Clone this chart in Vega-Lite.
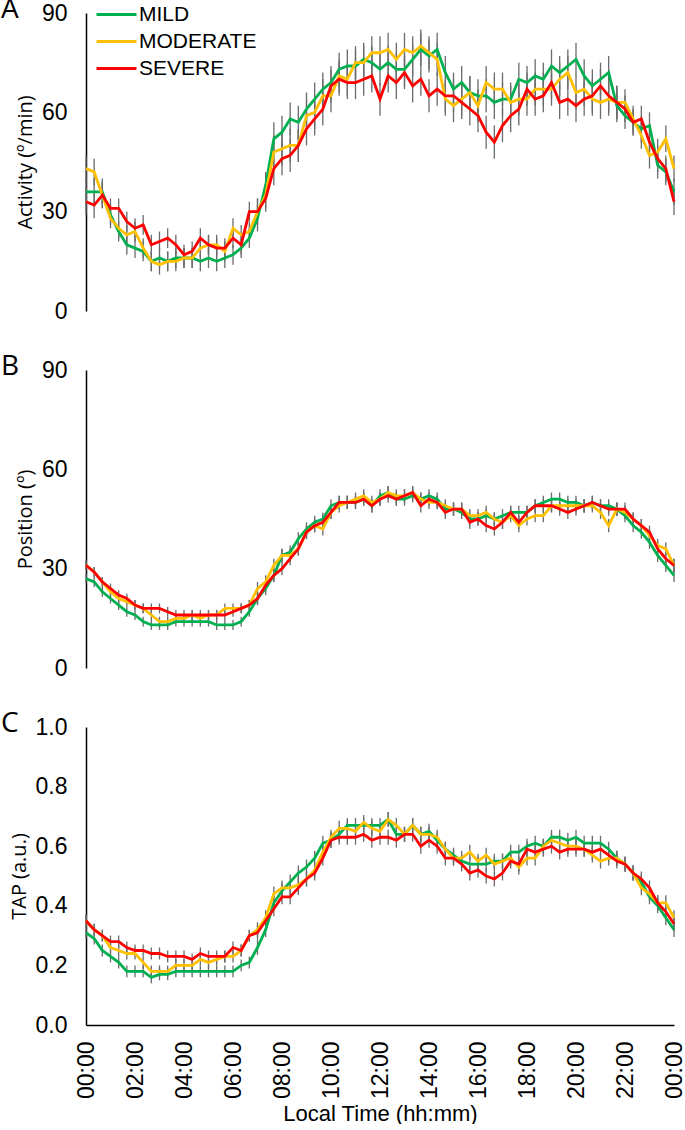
{
  "$schema": "https://vega.github.io/schema/vega-lite/v6.json",
  "background": "white",
  "padding": {"left": 1, "top": -4, "right": 0, "bottom": 0},
  "spacing": 59,
  "bounds": "flush",
  "resolve": {"legend": {"color": "independent"}},
  "config": {
    "font": "Liberation Sans",
    "view": {"stroke": null},
    "axis": {
      "grid": false,
      "ticks": false,
      "domainColor": "#000000",
      "domainWidth": 1.5,
      "labelColor": "#000000",
      "labelFont": "Liberation Sans",
      "labelFontSize": 23,
      "titleColor": "#000000",
      "titleFont": "Open Sans",
      "titleFontSize": 20,
      "titleFontWeight": "normal"
    },
    "axisY": {"labelPadding": 19, "titlePadding": 6},
    "axisX": {
      "labelFontSize": 23,
      "labelPadding": 16,
      "labelAngle": 270,
      "labelOverlap": false,
      "labelFlush": false,
      "labelBound": false,
      "titleFont": "Liberation Sans",
      "titleFontSize": 22,
      "titleBaseline": "top",
      "titleY": 78
    },
    "title": {"font": "Open Sans", "fontSize": 28, "fontWeight": "normal", "color": "#000000", "anchor": "start", "frame": "group", "baseline": "top", "offset": 0, "dx": -85, "dy": 26}
  },
  "datasets": {
    "A": [
      {"t":0,"g":"MILD","v":36,"e":4},{"t":20,"g":"MILD","v":36,"e":4},{"t":40,"g":"MILD","v":36,"e":4},{"t":60,"g":"MILD","v":29,"e":3},{"t":80,"g":"MILD","v":24,"e":3},{"t":100,"g":"MILD","v":20,"e":3},{"t":120,"g":"MILD","v":19,"e":3},{"t":140,"g":"MILD","v":18,"e":3},{"t":160,"g":"MILD","v":15,"e":3},{"t":180,"g":"MILD","v":16,"e":3},{"t":200,"g":"MILD","v":15,"e":3},{"t":220,"g":"MILD","v":16,"e":3},{"t":240,"g":"MILD","v":16,"e":3},{"t":260,"g":"MILD","v":16,"e":3},{"t":280,"g":"MILD","v":15,"e":3},{"t":300,"g":"MILD","v":16,"e":3},{"t":320,"g":"MILD","v":15,"e":3},{"t":340,"g":"MILD","v":16,"e":3},{"t":360,"g":"MILD","v":17,"e":3},{"t":380,"g":"MILD","v":19,"e":3},{"t":400,"g":"MILD","v":22,"e":3},{"t":420,"g":"MILD","v":28,"e":4},{"t":440,"g":"MILD","v":38,"e":4},{"t":460,"g":"MILD","v":52,"e":5},{"t":480,"g":"MILD","v":54,"e":5},{"t":500,"g":"MILD","v":58,"e":5},{"t":520,"g":"MILD","v":57,"e":5},{"t":540,"g":"MILD","v":61,"e":5},{"t":560,"g":"MILD","v":64,"e":5},{"t":580,"g":"MILD","v":67,"e":5},{"t":600,"g":"MILD","v":69,"e":5},{"t":620,"g":"MILD","v":73,"e":5},{"t":640,"g":"MILD","v":74,"e":5},{"t":660,"g":"MILD","v":74,"e":5},{"t":680,"g":"MILD","v":76,"e":5},{"t":700,"g":"MILD","v":75,"e":5},{"t":720,"g":"MILD","v":73,"e":5},{"t":740,"g":"MILD","v":75,"e":5},{"t":760,"g":"MILD","v":73,"e":5},{"t":780,"g":"MILD","v":73,"e":5},{"t":800,"g":"MILD","v":76,"e":5},{"t":820,"g":"MILD","v":79,"e":5},{"t":840,"g":"MILD","v":77,"e":5},{"t":860,"g":"MILD","v":79,"e":5},{"t":880,"g":"MILD","v":72,"e":5},{"t":900,"g":"MILD","v":67,"e":5},{"t":920,"g":"MILD","v":69,"e":5},{"t":940,"g":"MILD","v":66,"e":5},{"t":960,"g":"MILD","v":65,"e":5},{"t":980,"g":"MILD","v":65,"e":5},{"t":1000,"g":"MILD","v":63,"e":5},{"t":1020,"g":"MILD","v":64,"e":5},{"t":1040,"g":"MILD","v":64,"e":5},{"t":1060,"g":"MILD","v":70,"e":5},{"t":1080,"g":"MILD","v":69,"e":5},{"t":1100,"g":"MILD","v":71,"e":5},{"t":1120,"g":"MILD","v":70,"e":5},{"t":1140,"g":"MILD","v":74,"e":5},{"t":1160,"g":"MILD","v":72,"e":5},{"t":1180,"g":"MILD","v":74,"e":5},{"t":1200,"g":"MILD","v":76,"e":5},{"t":1220,"g":"MILD","v":71,"e":5},{"t":1240,"g":"MILD","v":68,"e":5},{"t":1260,"g":"MILD","v":70,"e":5},{"t":1280,"g":"MILD","v":72,"e":5},{"t":1300,"g":"MILD","v":62,"e":5},{"t":1320,"g":"MILD","v":59,"e":4},{"t":1340,"g":"MILD","v":57,"e":4},{"t":1360,"g":"MILD","v":55,"e":4},{"t":1380,"g":"MILD","v":56,"e":4},{"t":1400,"g":"MILD","v":44,"e":4},{"t":1420,"g":"MILD","v":42,"e":4},{"t":1440,"g":"MILD","v":36,"e":4},
      {"t":0,"g":"MODERATE","v":43,"e":4},{"t":20,"g":"MODERATE","v":42,"e":4},{"t":40,"g":"MODERATE","v":35,"e":4},{"t":60,"g":"MODERATE","v":28,"e":3},{"t":80,"g":"MODERATE","v":25,"e":3},{"t":100,"g":"MODERATE","v":23,"e":3},{"t":120,"g":"MODERATE","v":24,"e":3},{"t":140,"g":"MODERATE","v":19,"e":3},{"t":160,"g":"MODERATE","v":15,"e":3},{"t":180,"g":"MODERATE","v":14,"e":3},{"t":200,"g":"MODERATE","v":15,"e":3},{"t":220,"g":"MODERATE","v":15,"e":3},{"t":240,"g":"MODERATE","v":16,"e":3},{"t":260,"g":"MODERATE","v":16,"e":3},{"t":280,"g":"MODERATE","v":19,"e":3},{"t":300,"g":"MODERATE","v":20,"e":3},{"t":320,"g":"MODERATE","v":20,"e":3},{"t":340,"g":"MODERATE","v":18,"e":3},{"t":360,"g":"MODERATE","v":25,"e":3},{"t":380,"g":"MODERATE","v":23,"e":3},{"t":400,"g":"MODERATE","v":24,"e":3},{"t":420,"g":"MODERATE","v":30,"e":4},{"t":440,"g":"MODERATE","v":35,"e":4},{"t":460,"g":"MODERATE","v":48,"e":5},{"t":480,"g":"MODERATE","v":49,"e":5},{"t":500,"g":"MODERATE","v":50,"e":5},{"t":520,"g":"MODERATE","v":50,"e":5},{"t":540,"g":"MODERATE","v":59,"e":5},{"t":560,"g":"MODERATE","v":60,"e":5},{"t":580,"g":"MODERATE","v":65,"e":5},{"t":600,"g":"MODERATE","v":65,"e":5},{"t":620,"g":"MODERATE","v":71,"e":5},{"t":640,"g":"MODERATE","v":70,"e":5},{"t":660,"g":"MODERATE","v":75,"e":5},{"t":680,"g":"MODERATE","v":75,"e":5},{"t":700,"g":"MODERATE","v":78,"e":5},{"t":720,"g":"MODERATE","v":78,"e":5},{"t":740,"g":"MODERATE","v":79,"e":5},{"t":760,"g":"MODERATE","v":76,"e":5},{"t":780,"g":"MODERATE","v":79,"e":5},{"t":800,"g":"MODERATE","v":78,"e":5},{"t":820,"g":"MODERATE","v":80,"e":5},{"t":840,"g":"MODERATE","v":78,"e":5},{"t":860,"g":"MODERATE","v":76,"e":5},{"t":880,"g":"MODERATE","v":64,"e":5},{"t":900,"g":"MODERATE","v":62,"e":5},{"t":920,"g":"MODERATE","v":64,"e":5},{"t":940,"g":"MODERATE","v":66,"e":5},{"t":960,"g":"MODERATE","v":62,"e":5},{"t":980,"g":"MODERATE","v":69,"e":5},{"t":1000,"g":"MODERATE","v":67,"e":5},{"t":1020,"g":"MODERATE","v":67,"e":5},{"t":1040,"g":"MODERATE","v":63,"e":5},{"t":1060,"g":"MODERATE","v":64,"e":5},{"t":1080,"g":"MODERATE","v":64,"e":5},{"t":1100,"g":"MODERATE","v":67,"e":5},{"t":1120,"g":"MODERATE","v":67,"e":5},{"t":1140,"g":"MODERATE","v":67,"e":5},{"t":1160,"g":"MODERATE","v":70,"e":5},{"t":1180,"g":"MODERATE","v":72,"e":5},{"t":1200,"g":"MODERATE","v":66,"e":5},{"t":1220,"g":"MODERATE","v":67,"e":5},{"t":1240,"g":"MODERATE","v":64,"e":5},{"t":1260,"g":"MODERATE","v":63,"e":5},{"t":1280,"g":"MODERATE","v":64,"e":5},{"t":1300,"g":"MODERATE","v":63,"e":5},{"t":1320,"g":"MODERATE","v":63,"e":4},{"t":1340,"g":"MODERATE","v":58,"e":4},{"t":1360,"g":"MODERATE","v":53,"e":4},{"t":1380,"g":"MODERATE","v":47,"e":4},{"t":1400,"g":"MODERATE","v":48,"e":4},{"t":1420,"g":"MODERATE","v":52,"e":4},{"t":1440,"g":"MODERATE","v":43,"e":4},
      {"t":0,"g":"SEVERE","v":33,"e":4},{"t":20,"g":"SEVERE","v":32,"e":4},{"t":40,"g":"SEVERE","v":35,"e":4},{"t":60,"g":"SEVERE","v":31,"e":3},{"t":80,"g":"SEVERE","v":31,"e":3},{"t":100,"g":"SEVERE","v":27,"e":3},{"t":120,"g":"SEVERE","v":25,"e":3},{"t":140,"g":"SEVERE","v":26,"e":3},{"t":160,"g":"SEVERE","v":20,"e":3},{"t":180,"g":"SEVERE","v":21,"e":3},{"t":200,"g":"SEVERE","v":22,"e":3},{"t":220,"g":"SEVERE","v":20,"e":3},{"t":240,"g":"SEVERE","v":17,"e":3},{"t":260,"g":"SEVERE","v":18,"e":3},{"t":280,"g":"SEVERE","v":22,"e":3},{"t":300,"g":"SEVERE","v":20,"e":3},{"t":320,"g":"SEVERE","v":19,"e":3},{"t":340,"g":"SEVERE","v":19,"e":3},{"t":360,"g":"SEVERE","v":22,"e":3},{"t":380,"g":"SEVERE","v":20,"e":3},{"t":400,"g":"SEVERE","v":30,"e":3},{"t":420,"g":"SEVERE","v":30,"e":4},{"t":440,"g":"SEVERE","v":34,"e":4},{"t":460,"g":"SEVERE","v":43,"e":5},{"t":480,"g":"SEVERE","v":46,"e":5},{"t":500,"g":"SEVERE","v":47,"e":5},{"t":520,"g":"SEVERE","v":50,"e":5},{"t":540,"g":"SEVERE","v":55,"e":5},{"t":560,"g":"SEVERE","v":58,"e":5},{"t":580,"g":"SEVERE","v":61,"e":5},{"t":600,"g":"SEVERE","v":68,"e":5},{"t":620,"g":"SEVERE","v":70,"e":5},{"t":640,"g":"SEVERE","v":69,"e":5},{"t":660,"g":"SEVERE","v":69,"e":5},{"t":680,"g":"SEVERE","v":70,"e":5},{"t":700,"g":"SEVERE","v":71,"e":5},{"t":720,"g":"SEVERE","v":64,"e":5},{"t":740,"g":"SEVERE","v":71,"e":5},{"t":760,"g":"SEVERE","v":69,"e":5},{"t":780,"g":"SEVERE","v":72,"e":5},{"t":800,"g":"SEVERE","v":68,"e":5},{"t":820,"g":"SEVERE","v":70,"e":5},{"t":840,"g":"SEVERE","v":65,"e":5},{"t":860,"g":"SEVERE","v":67,"e":5},{"t":880,"g":"SEVERE","v":65,"e":5},{"t":900,"g":"SEVERE","v":65,"e":5},{"t":920,"g":"SEVERE","v":63,"e":5},{"t":940,"g":"SEVERE","v":61,"e":5},{"t":960,"g":"SEVERE","v":59,"e":5},{"t":980,"g":"SEVERE","v":54,"e":5},{"t":1000,"g":"SEVERE","v":51,"e":5},{"t":1020,"g":"SEVERE","v":56,"e":5},{"t":1040,"g":"SEVERE","v":59,"e":5},{"t":1060,"g":"SEVERE","v":61,"e":5},{"t":1080,"g":"SEVERE","v":67,"e":5},{"t":1100,"g":"SEVERE","v":64,"e":5},{"t":1120,"g":"SEVERE","v":65,"e":5},{"t":1140,"g":"SEVERE","v":69,"e":5},{"t":1160,"g":"SEVERE","v":63,"e":5},{"t":1180,"g":"SEVERE","v":64,"e":5},{"t":1200,"g":"SEVERE","v":62,"e":5},{"t":1220,"g":"SEVERE","v":64,"e":5},{"t":1240,"g":"SEVERE","v":65,"e":5},{"t":1260,"g":"SEVERE","v":68,"e":5},{"t":1280,"g":"SEVERE","v":65,"e":5},{"t":1300,"g":"SEVERE","v":63,"e":5},{"t":1320,"g":"SEVERE","v":61,"e":4},{"t":1340,"g":"SEVERE","v":57,"e":4},{"t":1360,"g":"SEVERE","v":58,"e":4},{"t":1380,"g":"SEVERE","v":51,"e":4},{"t":1400,"g":"SEVERE","v":46,"e":4},{"t":1420,"g":"SEVERE","v":43,"e":4},{"t":1440,"g":"SEVERE","v":33,"e":4}
    ],
    "B": [
      {"t":0,"g":"MILD","v":27,"e":1.5},{"t":20,"g":"MILD","v":26,"e":1.5},{"t":40,"g":"MILD","v":23,"e":1.5},{"t":60,"g":"MILD","v":21,"e":1.5},{"t":80,"g":"MILD","v":19,"e":1.5},{"t":100,"g":"MILD","v":17,"e":1.5},{"t":120,"g":"MILD","v":16,"e":1.5},{"t":140,"g":"MILD","v":14,"e":1.5},{"t":160,"g":"MILD","v":13,"e":1.5},{"t":180,"g":"MILD","v":13,"e":1.5},{"t":200,"g":"MILD","v":13,"e":1.5},{"t":220,"g":"MILD","v":14,"e":1.5},{"t":240,"g":"MILD","v":14,"e":1.5},{"t":260,"g":"MILD","v":14,"e":1.5},{"t":280,"g":"MILD","v":14,"e":1.5},{"t":300,"g":"MILD","v":14,"e":1.5},{"t":320,"g":"MILD","v":13,"e":1.5},{"t":340,"g":"MILD","v":13,"e":1.5},{"t":360,"g":"MILD","v":13,"e":1.5},{"t":380,"g":"MILD","v":14,"e":1.5},{"t":400,"g":"MILD","v":17,"e":1.5},{"t":420,"g":"MILD","v":21,"e":2},{"t":440,"g":"MILD","v":24,"e":2},{"t":460,"g":"MILD","v":28,"e":2},{"t":480,"g":"MILD","v":34,"e":2},{"t":500,"g":"MILD","v":35,"e":2},{"t":520,"g":"MILD","v":39,"e":2},{"t":540,"g":"MILD","v":42,"e":2},{"t":560,"g":"MILD","v":44,"e":2},{"t":580,"g":"MILD","v":45,"e":2},{"t":600,"g":"MILD","v":49,"e":2},{"t":620,"g":"MILD","v":50,"e":2},{"t":640,"g":"MILD","v":50,"e":2},{"t":660,"g":"MILD","v":50,"e":2},{"t":680,"g":"MILD","v":51,"e":2},{"t":700,"g":"MILD","v":49,"e":2},{"t":720,"g":"MILD","v":52,"e":2},{"t":740,"g":"MILD","v":53,"e":2},{"t":760,"g":"MILD","v":51,"e":2},{"t":780,"g":"MILD","v":51,"e":2},{"t":800,"g":"MILD","v":52,"e":2},{"t":820,"g":"MILD","v":51,"e":2},{"t":840,"g":"MILD","v":52,"e":2},{"t":860,"g":"MILD","v":51,"e":2},{"t":880,"g":"MILD","v":48,"e":2},{"t":900,"g":"MILD","v":48,"e":2},{"t":920,"g":"MILD","v":47,"e":2},{"t":940,"g":"MILD","v":45,"e":2},{"t":960,"g":"MILD","v":45,"e":2},{"t":980,"g":"MILD","v":46,"e":2},{"t":1000,"g":"MILD","v":45,"e":2},{"t":1020,"g":"MILD","v":46,"e":2},{"t":1040,"g":"MILD","v":47,"e":2},{"t":1060,"g":"MILD","v":47,"e":2},{"t":1080,"g":"MILD","v":47,"e":2},{"t":1100,"g":"MILD","v":49,"e":2},{"t":1120,"g":"MILD","v":50,"e":2},{"t":1140,"g":"MILD","v":51,"e":2},{"t":1160,"g":"MILD","v":51,"e":2},{"t":1180,"g":"MILD","v":50,"e":2},{"t":1200,"g":"MILD","v":50,"e":2},{"t":1220,"g":"MILD","v":49,"e":2},{"t":1240,"g":"MILD","v":50,"e":2},{"t":1260,"g":"MILD","v":49,"e":2},{"t":1280,"g":"MILD","v":49,"e":2},{"t":1300,"g":"MILD","v":48,"e":2},{"t":1320,"g":"MILD","v":46,"e":2},{"t":1340,"g":"MILD","v":43,"e":2},{"t":1360,"g":"MILD","v":41,"e":2},{"t":1380,"g":"MILD","v":38,"e":2},{"t":1400,"g":"MILD","v":34,"e":2},{"t":1420,"g":"MILD","v":31,"e":2},{"t":1440,"g":"MILD","v":28,"e":2},
      {"t":0,"g":"MODERATE","v":31,"e":1.5},{"t":20,"g":"MODERATE","v":29,"e":1.5},{"t":40,"g":"MODERATE","v":26,"e":1.5},{"t":60,"g":"MODERATE","v":23,"e":1.5},{"t":80,"g":"MODERATE","v":21,"e":1.5},{"t":100,"g":"MODERATE","v":20,"e":1.5},{"t":120,"g":"MODERATE","v":19,"e":1.5},{"t":140,"g":"MODERATE","v":18,"e":1.5},{"t":160,"g":"MODERATE","v":16,"e":1.5},{"t":180,"g":"MODERATE","v":14,"e":1.5},{"t":200,"g":"MODERATE","v":14,"e":1.5},{"t":220,"g":"MODERATE","v":15,"e":1.5},{"t":240,"g":"MODERATE","v":15,"e":1.5},{"t":260,"g":"MODERATE","v":16,"e":1.5},{"t":280,"g":"MODERATE","v":15,"e":1.5},{"t":300,"g":"MODERATE","v":16,"e":1.5},{"t":320,"g":"MODERATE","v":16,"e":1.5},{"t":340,"g":"MODERATE","v":18,"e":1.5},{"t":360,"g":"MODERATE","v":18,"e":1.5},{"t":380,"g":"MODERATE","v":18,"e":1.5},{"t":400,"g":"MODERATE","v":19,"e":1.5},{"t":420,"g":"MODERATE","v":24,"e":2},{"t":440,"g":"MODERATE","v":26,"e":2},{"t":460,"g":"MODERATE","v":31,"e":2},{"t":480,"g":"MODERATE","v":34,"e":2},{"t":500,"g":"MODERATE","v":34,"e":2},{"t":520,"g":"MODERATE","v":36,"e":2},{"t":540,"g":"MODERATE","v":41,"e":2},{"t":560,"g":"MODERATE","v":43,"e":2},{"t":580,"g":"MODERATE","v":42,"e":2},{"t":600,"g":"MODERATE","v":47,"e":2},{"t":620,"g":"MODERATE","v":49,"e":2},{"t":640,"g":"MODERATE","v":50,"e":2},{"t":660,"g":"MODERATE","v":51,"e":2},{"t":680,"g":"MODERATE","v":52,"e":2},{"t":700,"g":"MODERATE","v":50,"e":2},{"t":720,"g":"MODERATE","v":51,"e":2},{"t":740,"g":"MODERATE","v":53,"e":2},{"t":760,"g":"MODERATE","v":52,"e":2},{"t":780,"g":"MODERATE","v":52,"e":2},{"t":800,"g":"MODERATE","v":53,"e":2},{"t":820,"g":"MODERATE","v":51,"e":2},{"t":840,"g":"MODERATE","v":50,"e":2},{"t":860,"g":"MODERATE","v":50,"e":2},{"t":880,"g":"MODERATE","v":49,"e":2},{"t":900,"g":"MODERATE","v":48,"e":2},{"t":920,"g":"MODERATE","v":48,"e":2},{"t":940,"g":"MODERATE","v":46,"e":2},{"t":960,"g":"MODERATE","v":46,"e":2},{"t":980,"g":"MODERATE","v":47,"e":2},{"t":1000,"g":"MODERATE","v":45,"e":2},{"t":1020,"g":"MODERATE","v":44,"e":2},{"t":1040,"g":"MODERATE","v":46,"e":2},{"t":1060,"g":"MODERATE","v":43,"e":2},{"t":1080,"g":"MODERATE","v":45,"e":2},{"t":1100,"g":"MODERATE","v":46,"e":2},{"t":1120,"g":"MODERATE","v":46,"e":2},{"t":1140,"g":"MODERATE","v":49,"e":2},{"t":1160,"g":"MODERATE","v":49,"e":2},{"t":1180,"g":"MODERATE","v":49,"e":2},{"t":1200,"g":"MODERATE","v":49,"e":2},{"t":1220,"g":"MODERATE","v":49,"e":2},{"t":1240,"g":"MODERATE","v":49,"e":2},{"t":1260,"g":"MODERATE","v":47,"e":2},{"t":1280,"g":"MODERATE","v":43,"e":2},{"t":1300,"g":"MODERATE","v":48,"e":2},{"t":1320,"g":"MODERATE","v":47,"e":2},{"t":1340,"g":"MODERATE","v":45,"e":2},{"t":1360,"g":"MODERATE","v":43,"e":2},{"t":1380,"g":"MODERATE","v":40,"e":2},{"t":1400,"g":"MODERATE","v":37,"e":2},{"t":1420,"g":"MODERATE","v":36,"e":2},{"t":1440,"g":"MODERATE","v":31,"e":2},
      {"t":0,"g":"SEVERE","v":31,"e":1.5},{"t":20,"g":"SEVERE","v":29,"e":1.5},{"t":40,"g":"SEVERE","v":26,"e":1.5},{"t":60,"g":"SEVERE","v":24,"e":1.5},{"t":80,"g":"SEVERE","v":22,"e":1.5},{"t":100,"g":"SEVERE","v":21,"e":1.5},{"t":120,"g":"SEVERE","v":19,"e":1.5},{"t":140,"g":"SEVERE","v":18,"e":1.5},{"t":160,"g":"SEVERE","v":18,"e":1.5},{"t":180,"g":"SEVERE","v":18,"e":1.5},{"t":200,"g":"SEVERE","v":17,"e":1.5},{"t":220,"g":"SEVERE","v":16,"e":1.5},{"t":240,"g":"SEVERE","v":16,"e":1.5},{"t":260,"g":"SEVERE","v":16,"e":1.5},{"t":280,"g":"SEVERE","v":16,"e":1.5},{"t":300,"g":"SEVERE","v":16,"e":1.5},{"t":320,"g":"SEVERE","v":16,"e":1.5},{"t":340,"g":"SEVERE","v":16,"e":1.5},{"t":360,"g":"SEVERE","v":17,"e":1.5},{"t":380,"g":"SEVERE","v":18,"e":1.5},{"t":400,"g":"SEVERE","v":19,"e":1.5},{"t":420,"g":"SEVERE","v":21,"e":2},{"t":440,"g":"SEVERE","v":25,"e":2},{"t":460,"g":"SEVERE","v":28,"e":2},{"t":480,"g":"SEVERE","v":30,"e":2},{"t":500,"g":"SEVERE","v":33,"e":2},{"t":520,"g":"SEVERE","v":36,"e":2},{"t":540,"g":"SEVERE","v":41,"e":2},{"t":560,"g":"SEVERE","v":43,"e":2},{"t":580,"g":"SEVERE","v":44,"e":2},{"t":600,"g":"SEVERE","v":47,"e":2},{"t":620,"g":"SEVERE","v":50,"e":2},{"t":640,"g":"SEVERE","v":50,"e":2},{"t":660,"g":"SEVERE","v":50,"e":2},{"t":680,"g":"SEVERE","v":51,"e":2},{"t":700,"g":"SEVERE","v":49,"e":2},{"t":720,"g":"SEVERE","v":51,"e":2},{"t":740,"g":"SEVERE","v":52,"e":2},{"t":760,"g":"SEVERE","v":51,"e":2},{"t":780,"g":"SEVERE","v":52,"e":2},{"t":800,"g":"SEVERE","v":53,"e":2},{"t":820,"g":"SEVERE","v":49,"e":2},{"t":840,"g":"SEVERE","v":51,"e":2},{"t":860,"g":"SEVERE","v":50,"e":2},{"t":880,"g":"SEVERE","v":47,"e":2},{"t":900,"g":"SEVERE","v":48,"e":2},{"t":920,"g":"SEVERE","v":48,"e":2},{"t":940,"g":"SEVERE","v":44,"e":2},{"t":960,"g":"SEVERE","v":45,"e":2},{"t":980,"g":"SEVERE","v":43,"e":2},{"t":1000,"g":"SEVERE","v":42,"e":2},{"t":1020,"g":"SEVERE","v":44,"e":2},{"t":1040,"g":"SEVERE","v":47,"e":2},{"t":1060,"g":"SEVERE","v":44,"e":2},{"t":1080,"g":"SEVERE","v":47,"e":2},{"t":1100,"g":"SEVERE","v":49,"e":2},{"t":1120,"g":"SEVERE","v":49,"e":2},{"t":1140,"g":"SEVERE","v":49,"e":2},{"t":1160,"g":"SEVERE","v":48,"e":2},{"t":1180,"g":"SEVERE","v":47,"e":2},{"t":1200,"g":"SEVERE","v":48,"e":2},{"t":1220,"g":"SEVERE","v":49,"e":2},{"t":1240,"g":"SEVERE","v":50,"e":2},{"t":1260,"g":"SEVERE","v":49,"e":2},{"t":1280,"g":"SEVERE","v":48,"e":2},{"t":1300,"g":"SEVERE","v":48,"e":2},{"t":1320,"g":"SEVERE","v":48,"e":2},{"t":1340,"g":"SEVERE","v":45,"e":2},{"t":1360,"g":"SEVERE","v":43,"e":2},{"t":1380,"g":"SEVERE","v":41,"e":2},{"t":1400,"g":"SEVERE","v":36,"e":2},{"t":1420,"g":"SEVERE","v":33,"e":2},{"t":1440,"g":"SEVERE","v":31,"e":2}
    ],
    "C": [
      {"t":0,"g":"MILD","v":0.31,"e":0.02},{"t":20,"g":"MILD","v":0.29,"e":0.02},{"t":40,"g":"MILD","v":0.25,"e":0.02},{"t":60,"g":"MILD","v":0.23,"e":0.02},{"t":80,"g":"MILD","v":0.21,"e":0.02},{"t":100,"g":"MILD","v":0.18,"e":0.02},{"t":120,"g":"MILD","v":0.18,"e":0.02},{"t":140,"g":"MILD","v":0.18,"e":0.02},{"t":160,"g":"MILD","v":0.16,"e":0.02},{"t":180,"g":"MILD","v":0.17,"e":0.02},{"t":200,"g":"MILD","v":0.17,"e":0.02},{"t":220,"g":"MILD","v":0.18,"e":0.02},{"t":240,"g":"MILD","v":0.18,"e":0.02},{"t":260,"g":"MILD","v":0.18,"e":0.02},{"t":280,"g":"MILD","v":0.18,"e":0.02},{"t":300,"g":"MILD","v":0.18,"e":0.02},{"t":320,"g":"MILD","v":0.18,"e":0.02},{"t":340,"g":"MILD","v":0.18,"e":0.02},{"t":360,"g":"MILD","v":0.18,"e":0.02},{"t":380,"g":"MILD","v":0.20,"e":0.02},{"t":400,"g":"MILD","v":0.21,"e":0.02},{"t":420,"g":"MILD","v":0.26,"e":0.025},{"t":440,"g":"MILD","v":0.32,"e":0.025},{"t":460,"g":"MILD","v":0.41,"e":0.025},{"t":480,"g":"MILD","v":0.45,"e":0.025},{"t":500,"g":"MILD","v":0.48,"e":0.025},{"t":520,"g":"MILD","v":0.51,"e":0.025},{"t":540,"g":"MILD","v":0.53,"e":0.025},{"t":560,"g":"MILD","v":0.56,"e":0.025},{"t":580,"g":"MILD","v":0.61,"e":0.025},{"t":600,"g":"MILD","v":0.62,"e":0.025},{"t":620,"g":"MILD","v":0.64,"e":0.025},{"t":640,"g":"MILD","v":0.67,"e":0.025},{"t":660,"g":"MILD","v":0.67,"e":0.025},{"t":680,"g":"MILD","v":0.67,"e":0.025},{"t":700,"g":"MILD","v":0.67,"e":0.025},{"t":720,"g":"MILD","v":0.67,"e":0.025},{"t":740,"g":"MILD","v":0.69,"e":0.025},{"t":760,"g":"MILD","v":0.64,"e":0.025},{"t":780,"g":"MILD","v":0.64,"e":0.025},{"t":800,"g":"MILD","v":0.67,"e":0.025},{"t":820,"g":"MILD","v":0.64,"e":0.025},{"t":840,"g":"MILD","v":0.65,"e":0.025},{"t":860,"g":"MILD","v":0.62,"e":0.025},{"t":880,"g":"MILD","v":0.59,"e":0.025},{"t":900,"g":"MILD","v":0.57,"e":0.025},{"t":920,"g":"MILD","v":0.55,"e":0.025},{"t":940,"g":"MILD","v":0.54,"e":0.025},{"t":960,"g":"MILD","v":0.54,"e":0.025},{"t":980,"g":"MILD","v":0.54,"e":0.025},{"t":1000,"g":"MILD","v":0.55,"e":0.025},{"t":1020,"g":"MILD","v":0.55,"e":0.025},{"t":1040,"g":"MILD","v":0.58,"e":0.025},{"t":1060,"g":"MILD","v":0.58,"e":0.025},{"t":1080,"g":"MILD","v":0.60,"e":0.025},{"t":1100,"g":"MILD","v":0.61,"e":0.025},{"t":1120,"g":"MILD","v":0.60,"e":0.025},{"t":1140,"g":"MILD","v":0.63,"e":0.025},{"t":1160,"g":"MILD","v":0.63,"e":0.025},{"t":1180,"g":"MILD","v":0.62,"e":0.025},{"t":1200,"g":"MILD","v":0.63,"e":0.025},{"t":1220,"g":"MILD","v":0.61,"e":0.025},{"t":1240,"g":"MILD","v":0.61,"e":0.025},{"t":1260,"g":"MILD","v":0.61,"e":0.025},{"t":1280,"g":"MILD","v":0.59,"e":0.025},{"t":1300,"g":"MILD","v":0.56,"e":0.025},{"t":1320,"g":"MILD","v":0.54,"e":0.025},{"t":1340,"g":"MILD","v":0.51,"e":0.025},{"t":1360,"g":"MILD","v":0.48,"e":0.025},{"t":1380,"g":"MILD","v":0.43,"e":0.025},{"t":1400,"g":"MILD","v":0.40,"e":0.025},{"t":1420,"g":"MILD","v":0.36,"e":0.025},{"t":1440,"g":"MILD","v":0.32,"e":0.025},
      {"t":0,"g":"MODERATE","v":0.35,"e":0.02},{"t":20,"g":"MODERATE","v":0.32,"e":0.02},{"t":40,"g":"MODERATE","v":0.30,"e":0.02},{"t":60,"g":"MODERATE","v":0.26,"e":0.02},{"t":80,"g":"MODERATE","v":0.25,"e":0.02},{"t":100,"g":"MODERATE","v":0.24,"e":0.02},{"t":120,"g":"MODERATE","v":0.24,"e":0.02},{"t":140,"g":"MODERATE","v":0.21,"e":0.02},{"t":160,"g":"MODERATE","v":0.18,"e":0.02},{"t":180,"g":"MODERATE","v":0.18,"e":0.02},{"t":200,"g":"MODERATE","v":0.18,"e":0.02},{"t":220,"g":"MODERATE","v":0.20,"e":0.02},{"t":240,"g":"MODERATE","v":0.20,"e":0.02},{"t":260,"g":"MODERATE","v":0.20,"e":0.02},{"t":280,"g":"MODERATE","v":0.22,"e":0.02},{"t":300,"g":"MODERATE","v":0.21,"e":0.02},{"t":320,"g":"MODERATE","v":0.22,"e":0.02},{"t":340,"g":"MODERATE","v":0.23,"e":0.02},{"t":360,"g":"MODERATE","v":0.23,"e":0.02},{"t":380,"g":"MODERATE","v":0.25,"e":0.02},{"t":400,"g":"MODERATE","v":0.30,"e":0.02},{"t":420,"g":"MODERATE","v":0.32,"e":0.025},{"t":440,"g":"MODERATE","v":0.36,"e":0.025},{"t":460,"g":"MODERATE","v":0.44,"e":0.025},{"t":480,"g":"MODERATE","v":0.46,"e":0.025},{"t":500,"g":"MODERATE","v":0.46,"e":0.025},{"t":520,"g":"MODERATE","v":0.47,"e":0.025},{"t":540,"g":"MODERATE","v":0.49,"e":0.025},{"t":560,"g":"MODERATE","v":0.52,"e":0.025},{"t":580,"g":"MODERATE","v":0.58,"e":0.025},{"t":600,"g":"MODERATE","v":0.63,"e":0.025},{"t":620,"g":"MODERATE","v":0.66,"e":0.025},{"t":640,"g":"MODERATE","v":0.66,"e":0.025},{"t":660,"g":"MODERATE","v":0.65,"e":0.025},{"t":680,"g":"MODERATE","v":0.68,"e":0.025},{"t":700,"g":"MODERATE","v":0.66,"e":0.025},{"t":720,"g":"MODERATE","v":0.65,"e":0.025},{"t":740,"g":"MODERATE","v":0.69,"e":0.025},{"t":760,"g":"MODERATE","v":0.67,"e":0.025},{"t":780,"g":"MODERATE","v":0.64,"e":0.025},{"t":800,"g":"MODERATE","v":0.67,"e":0.025},{"t":820,"g":"MODERATE","v":0.64,"e":0.025},{"t":840,"g":"MODERATE","v":0.64,"e":0.025},{"t":860,"g":"MODERATE","v":0.63,"e":0.025},{"t":880,"g":"MODERATE","v":0.59,"e":0.025},{"t":900,"g":"MODERATE","v":0.56,"e":0.025},{"t":920,"g":"MODERATE","v":0.56,"e":0.025},{"t":940,"g":"MODERATE","v":0.58,"e":0.025},{"t":960,"g":"MODERATE","v":0.55,"e":0.025},{"t":980,"g":"MODERATE","v":0.57,"e":0.025},{"t":1000,"g":"MODERATE","v":0.54,"e":0.025},{"t":1020,"g":"MODERATE","v":0.55,"e":0.025},{"t":1040,"g":"MODERATE","v":0.56,"e":0.025},{"t":1060,"g":"MODERATE","v":0.53,"e":0.025},{"t":1080,"g":"MODERATE","v":0.56,"e":0.025},{"t":1100,"g":"MODERATE","v":0.56,"e":0.025},{"t":1120,"g":"MODERATE","v":0.60,"e":0.025},{"t":1140,"g":"MODERATE","v":0.62,"e":0.025},{"t":1160,"g":"MODERATE","v":0.61,"e":0.025},{"t":1180,"g":"MODERATE","v":0.60,"e":0.025},{"t":1200,"g":"MODERATE","v":0.60,"e":0.025},{"t":1220,"g":"MODERATE","v":0.59,"e":0.025},{"t":1240,"g":"MODERATE","v":0.57,"e":0.025},{"t":1260,"g":"MODERATE","v":0.55,"e":0.025},{"t":1280,"g":"MODERATE","v":0.56,"e":0.025},{"t":1300,"g":"MODERATE","v":0.56,"e":0.025},{"t":1320,"g":"MODERATE","v":0.54,"e":0.025},{"t":1340,"g":"MODERATE","v":0.51,"e":0.025},{"t":1360,"g":"MODERATE","v":0.46,"e":0.025},{"t":1380,"g":"MODERATE","v":0.44,"e":0.025},{"t":1400,"g":"MODERATE","v":0.41,"e":0.025},{"t":1420,"g":"MODERATE","v":0.41,"e":0.025},{"t":1440,"g":"MODERATE","v":0.36,"e":0.025},
      {"t":0,"g":"SEVERE","v":0.35,"e":0.02},{"t":20,"g":"SEVERE","v":0.32,"e":0.02},{"t":40,"g":"SEVERE","v":0.30,"e":0.02},{"t":60,"g":"SEVERE","v":0.28,"e":0.02},{"t":80,"g":"SEVERE","v":0.28,"e":0.02},{"t":100,"g":"SEVERE","v":0.26,"e":0.02},{"t":120,"g":"SEVERE","v":0.25,"e":0.02},{"t":140,"g":"SEVERE","v":0.25,"e":0.02},{"t":160,"g":"SEVERE","v":0.24,"e":0.02},{"t":180,"g":"SEVERE","v":0.24,"e":0.02},{"t":200,"g":"SEVERE","v":0.23,"e":0.02},{"t":220,"g":"SEVERE","v":0.23,"e":0.02},{"t":240,"g":"SEVERE","v":0.23,"e":0.02},{"t":260,"g":"SEVERE","v":0.22,"e":0.02},{"t":280,"g":"SEVERE","v":0.24,"e":0.02},{"t":300,"g":"SEVERE","v":0.23,"e":0.02},{"t":320,"g":"SEVERE","v":0.23,"e":0.02},{"t":340,"g":"SEVERE","v":0.23,"e":0.02},{"t":360,"g":"SEVERE","v":0.26,"e":0.02},{"t":380,"g":"SEVERE","v":0.25,"e":0.02},{"t":400,"g":"SEVERE","v":0.30,"e":0.02},{"t":420,"g":"SEVERE","v":0.31,"e":0.025},{"t":440,"g":"SEVERE","v":0.35,"e":0.025},{"t":460,"g":"SEVERE","v":0.39,"e":0.025},{"t":480,"g":"SEVERE","v":0.43,"e":0.025},{"t":500,"g":"SEVERE","v":0.43,"e":0.025},{"t":520,"g":"SEVERE","v":0.46,"e":0.025},{"t":540,"g":"SEVERE","v":0.49,"e":0.025},{"t":560,"g":"SEVERE","v":0.51,"e":0.025},{"t":580,"g":"SEVERE","v":0.56,"e":0.025},{"t":600,"g":"SEVERE","v":0.62,"e":0.025},{"t":620,"g":"SEVERE","v":0.63,"e":0.025},{"t":640,"g":"SEVERE","v":0.63,"e":0.025},{"t":660,"g":"SEVERE","v":0.63,"e":0.025},{"t":680,"g":"SEVERE","v":0.64,"e":0.025},{"t":700,"g":"SEVERE","v":0.62,"e":0.025},{"t":720,"g":"SEVERE","v":0.63,"e":0.025},{"t":740,"g":"SEVERE","v":0.63,"e":0.025},{"t":760,"g":"SEVERE","v":0.62,"e":0.025},{"t":780,"g":"SEVERE","v":0.64,"e":0.025},{"t":800,"g":"SEVERE","v":0.64,"e":0.025},{"t":820,"g":"SEVERE","v":0.60,"e":0.025},{"t":840,"g":"SEVERE","v":0.62,"e":0.025},{"t":860,"g":"SEVERE","v":0.60,"e":0.025},{"t":880,"g":"SEVERE","v":0.56,"e":0.025},{"t":900,"g":"SEVERE","v":0.56,"e":0.025},{"t":920,"g":"SEVERE","v":0.54,"e":0.025},{"t":940,"g":"SEVERE","v":0.51,"e":0.025},{"t":960,"g":"SEVERE","v":0.52,"e":0.025},{"t":980,"g":"SEVERE","v":0.50,"e":0.025},{"t":1000,"g":"SEVERE","v":0.49,"e":0.025},{"t":1020,"g":"SEVERE","v":0.51,"e":0.025},{"t":1040,"g":"SEVERE","v":0.55,"e":0.025},{"t":1060,"g":"SEVERE","v":0.54,"e":0.025},{"t":1080,"g":"SEVERE","v":0.59,"e":0.025},{"t":1100,"g":"SEVERE","v":0.58,"e":0.025},{"t":1120,"g":"SEVERE","v":0.59,"e":0.025},{"t":1140,"g":"SEVERE","v":0.60,"e":0.025},{"t":1160,"g":"SEVERE","v":0.58,"e":0.025},{"t":1180,"g":"SEVERE","v":0.59,"e":0.025},{"t":1200,"g":"SEVERE","v":0.59,"e":0.025},{"t":1220,"g":"SEVERE","v":0.59,"e":0.025},{"t":1240,"g":"SEVERE","v":0.58,"e":0.025},{"t":1260,"g":"SEVERE","v":0.59,"e":0.025},{"t":1280,"g":"SEVERE","v":0.57,"e":0.025},{"t":1300,"g":"SEVERE","v":0.55,"e":0.025},{"t":1320,"g":"SEVERE","v":0.54,"e":0.025},{"t":1340,"g":"SEVERE","v":0.51,"e":0.025},{"t":1360,"g":"SEVERE","v":0.49,"e":0.025},{"t":1380,"g":"SEVERE","v":0.46,"e":0.025},{"t":1400,"g":"SEVERE","v":0.41,"e":0.025},{"t":1420,"g":"SEVERE","v":0.38,"e":0.025},{"t":1440,"g":"SEVERE","v":0.34,"e":0.025}
    ]
  },
  "vconcat": [
    {
      "data": {"name": "A"},
      "width": 588,
      "height": 298,
      "title": {"text": "A"},
      "encoding": {
        "x": {"field": "t", "type": "quantitative", "scale": {"domain": [0, 1440]}, "axis": null},
        "y": {"field": "v", "type": "quantitative", "scale": {"domain": [0, 90]}, "axis": {"values": [0, 30, 60, 90], "title": "Activity (º/min)"}}
      },
      "layer": [
        {"mark": {"type": "errorbar", "color": "#6b6b6b", "thickness": 1.3}, "encoding": {"yError": {"field": "e"}}},
        {
          "mark": {"type": "line", "strokeWidth": 2.8},
          "encoding": {
            "color": {
              "field": "g",
              "type": "nominal",
              "scale": {"domain": ["MILD", "MODERATE", "SEVERE"], "range": ["#00B050", "#FFC000", "#FF0000"]},
              "legend": {"orient": "none", "legendX": 19, "legendY": -10, "title": null, "padding": 0, "symbolType": "M-2,0H2", "symbolSize": 400, "symbolStrokeWidth": 3, "labelFont": "Liberation Sans", "labelFontSize": 21, "labelColor": "#000000", "labelOffset": 11, "rowPadding": 5}
            }
          }
        }
      ]
    },
    {
      "data": {"name": "B"},
      "width": 588,
      "height": 298,
      "title": {"text": "B"},
      "encoding": {
        "x": {"field": "t", "type": "quantitative", "scale": {"domain": [0, 1440]}, "axis": null},
        "y": {"field": "v", "type": "quantitative", "scale": {"domain": [0, 90]}, "axis": {"values": [0, 30, 60, 90], "title": "Position (º)"}}
      },
      "layer": [
        {"mark": {"type": "errorbar", "color": "#6b6b6b", "thickness": 1.3}, "encoding": {"yError": {"field": "e"}}},
        {
          "mark": {"type": "line", "strokeWidth": 2.8},
          "encoding": {
            "color": {"field": "g", "type": "nominal", "scale": {"domain": ["MILD", "MODERATE", "SEVERE"], "range": ["#00B050", "#FFC000", "#FF0000"]}, "legend": null}
          }
        }
      ]
    },
    {
      "data": {"name": "C"},
      "width": 588,
      "height": 298,
      "title": {"text": "C"},
      "encoding": {
        "x": {
          "field": "t",
          "type": "quantitative",
          "scale": {"domain": [0, 1440]},
          "axis": {
            "values": [0, 120, 240, 360, 480, 600, 720, 840, 960, 1080, 1200, 1320, 1440],
            "labelExpr": "(floor(datum.value / 60) % 24 < 10 ? '0' : '') + (floor(datum.value / 60) % 24) + ':00'",
            "title": "Local Time (hh:mm)"
          }
        },
        "y": {"field": "v", "type": "quantitative", "scale": {"domain": [0, 1]}, "axis": {"values": [0, 0.2, 0.4, 0.6, 0.8, 1.0], "format": ".1f", "title": "TAP (a.u.)"}}
      },
      "layer": [
        {"mark": {"type": "errorbar", "color": "#6b6b6b", "thickness": 1.3}, "encoding": {"yError": {"field": "e"}}},
        {
          "mark": {"type": "line", "strokeWidth": 2.8},
          "encoding": {
            "color": {"field": "g", "type": "nominal", "scale": {"domain": ["MILD", "MODERATE", "SEVERE"], "range": ["#00B050", "#FFC000", "#FF0000"]}, "legend": null}
          }
        }
      ]
    }
  ]
}
